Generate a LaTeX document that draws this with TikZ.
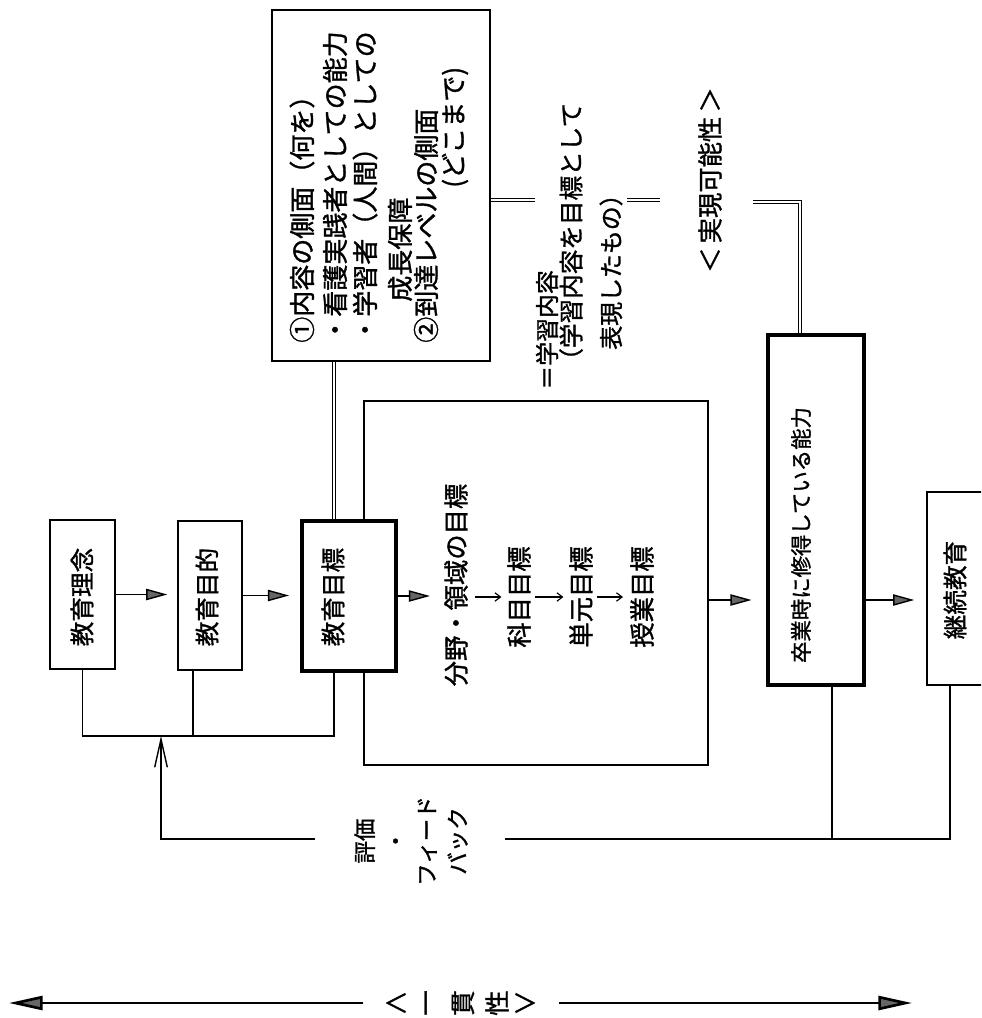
\documentclass[tikz,border=0pt]{standalone}
\usepackage{fontspec}
\newfontfamily\jp{Noto Sans CJK JP}[FakeBold=1.3]
\usetikzlibrary{arrows.meta}
\begin{document}
\begin{tikzpicture}[x=0.025cm,y=-0.025cm,
  box/.style={draw,line width=1.2pt,fill=white,inner sep=0pt},
  thickbox/.style={box,line width=2.4pt},
  vt/.style={font={\jp\fontsize{#1}{#1}\selectfont},inner sep=0pt,rotate=90},
  vt/.default=18,
  ht/.style={font={\jp\fontsize{#1}{#1}\selectfont},inner sep=0pt},
  ht/.default=18,
  ln/.style={line width=1pt},
  dbl/.style={line width=3.4pt,line cap=butt,line join=miter,postaction={draw,white,line width=1.6pt,line cap=butt,line join=miter}},
  arr/.style={line width=1pt,-{Triangle[length=15pt,width=8pt,fill=black!60]}},
  sarr/.style={line width=0.8pt,-{Straight Barb[length=4pt,width=6pt]}},
  uparr/.style={line width=1pt,-{Straight Barb[length=20pt,width=9pt]}},
  bigarr/.style={line width=1.9pt,-{Triangle[length=24pt,width=10pt,fill=black!60]}}
]
\useasboundingbox (0,0) rectangle (981,1018);
\clip (0,0) rectangle (981,1018);

% coordinates
\coordinate (j1) at (82.5,736);
\coordinate (j2) at (193,736);
\coordinate (j3) at (334,736);
\coordinate (fL) at (161,839);
\coordinate (fgL) at (315,839);
\coordinate (fgR) at (505,839);
\coordinate (fS) at (832,839);
\coordinate (fR) at (950,839);
\coordinate (d1) at (535,200);
\coordinate (d2a) at (627,200);
\coordinate (d2b) at (660,200);
\coordinate (d3) at (753,202);
\coordinate (d4) at (800,202);
\coordinate (ay) at (0,600);
\coordinate (gL) at (9,1003);
\coordinate (gR) at (912,1003);

% boxes
\node[box,minimum width=8.6cm,minimum height=9.1cm] (bigbox) at (536,583) {};
\node[box,minimum width=5.45cm,minimum height=8.775cm] (topbox) at (381,185.5) {};
\node[box,minimum width=1.625cm,minimum height=3.725cm] (rinen) at (82.5,594.5) {};
\node[box,minimum width=1.6cm,minimum height=3.725cm] (mokuteki) at (210,595.5) {};
\node[thickbox,minimum width=2.35cm,minimum height=3.75cm] (mokuhyo) at (349,596) {};
\node[thickbox,minimum width=2.4cm,minimum height=8.75cm] (sotsugyo) at (816,510) {};
\node[box,minimum width=1.825cm,minimum height=4.825cm] (keizoku) at (963.5,588.5) {};

% double lines
\draw[dbl] (j3 |- mokuhyo.north) -- (j3 |- topbox.south);
\draw[dbl] (topbox.east |- d1) -- (d1);
\draw[dbl] (d2a) -- (d2b);
\draw[dbl] (d3) -- (d4) -- (d4 |- sotsugyo.north);

% box texts
\node[vt=17.5] (t-rinen) at (82,597) {教育理念};
\node[vt=17.5] (t-mokuteki) at (207,597) {教育目的};
\node[vt=17.5] (t-mokuhyo) at (333,597) {教育目標};
\node[vt=15.2] (t-sotsu) at (801,535) {卒業時に修得している能力};
\node[vt=17.5] (t-keizoku) at (955,590) {継続教育};

% inner big box
\node[vt] (bunya) at (456,585) {分野・領域の目標};
\node[vt] (kamoku) at (519,597) {科目目標};
\node[vt] (tangen) at (581,597) {単元目標};
\node[vt] (jugyo) at (642,597) {授業目標};

% top box lines
\node[vt=18.5,anchor=west] (l1) at (302,343) {①内容の側面（何を）};
\node[vt=18.5,anchor=west] (l2) at (335,343) {・看護実践者としての能力};
\node[vt=18.5,anchor=west] (l3) at (365,343) {・学習者（人間）としての};
\node[vt=18.5,anchor=west] (l4) at (400,302) {成長保障};
\node[vt=18.5,anchor=west] (l5) at (426,343) {②到達レベルの側面};
\node[vt=18.5,anchor=west] (l6) at (455,188) {(どこまで)};

% side columns
\node[vt=17,anchor=west] (c1) at (547,390) {＝学習内容};
\node[vt=17.5,anchor=west] (c2) at (571,373) {（学習内容を目標として};
\node[vt=17,anchor=west] (c3) at (611,350) {表現したもの）};
\node[vt=18] (jitsugen) at (710,180) {＜\,実現可能性\,＞};

% feedback label
\node[rotate=90,inner sep=0pt,align=center,font={\jp\fontsize{16}{22}\selectfont}] (fb) at (411,841) {評価\\・\\フィード\\バック};

% consistency label
\node[ht] (k1) at (396,1003) {＜};
\node[vt] (k2) at (430,1003) {一};
\node[vt] (k3) at (463,1003) {貫};
\node[vt] (k4) at (497,1003) {性};
\node[ht] (k5) at (525,1003) {＞};

% feedback lines
\draw[ln] (j1 |- rinen.south) -- (j1) -- (j3) -- (j3 |- mokuhyo.south);
\draw[ln] (j2 |- mokuteki.south) -- (j2);
\draw[uparr] (fgL) -- (fL) -- (fL |- j1);
\draw[ln] (fS |- sotsugyo.south) -- (fS);
\draw[ln] (fgR) -- (fR) -- (fR |- keizoku.south);

% main arrows
\draw[arr,shorten >=7pt] (rinen.east) -- (rinen.east -| mokuteki.west);
\draw[arr,shorten >=8pt] (mokuteki.east) -- (mokuteki.east -| mokuhyo.west);
\draw[arr,shorten >=10pt] (mokuhyo.east) -- (mokuhyo.east -| bunya.north);
\draw[arr,shorten >=10.5pt] (bigbox.east |- ay) -- (sotsugyo.west |- ay);
\draw[arr,shorten >=8.5pt] (sotsugyo.east |- ay) -- (keizoku.west |- ay);

% small arrows
\draw[sarr,shorten <=5pt,shorten >=4pt] (bunya.south |- kamoku) -- (kamoku.north);
\draw[sarr,shorten <=3pt,shorten >=4pt] (kamoku.south) -- (tangen.north);
\draw[sarr,shorten <=3pt,shorten >=5pt] (tangen.south) -- (jugyo.north);

% big double arrow
\draw[bigarr,shorten <=14pt] (k1.west) -- (gL);
\draw[bigarr,shorten <=15pt] (k5.east) -- (gR);
\end{tikzpicture}
\end{document}
